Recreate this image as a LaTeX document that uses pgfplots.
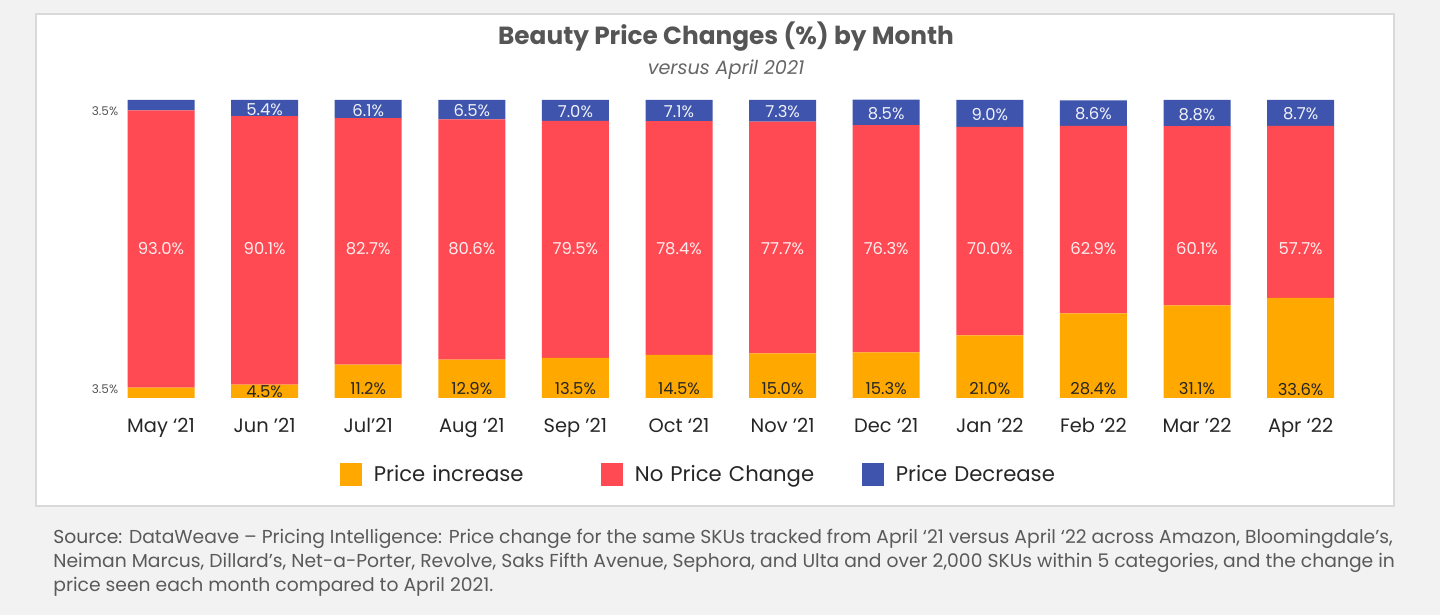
\documentclass[border=0pt]{standalone}
\usepackage{fontspec}
\setmainfont{Poppins}
\usepackage{pgfplots}
\pgfplotsset{compat=1.18}
\definecolor{bg}{HTML}{F2F2F2}
\definecolor{frame}{HTML}{D9D9D9}
\definecolor{incr}{HTML}{FFA900}
\definecolor{same}{HTML}{FF4A53}
\definecolor{decr}{HTML}{3F55AD}
\definecolor{ink}{HTML}{262626}
\definecolor{titlec}{HTML}{555555}
\definecolor{subc}{HTML}{666666}
\definecolor{srcc}{HTML}{5A5A5A}

\begin{document}
\begin{tikzpicture}
% background and panel (1px = 0.5pt)
\fill[bg] (0,0) rectangle (720pt,307.5pt);
\useasboundingbox (0,0) rectangle (720pt,307.5pt);
\filldraw[fill=white, draw=frame, line width=1.2pt] (18pt,54.5pt) rectangle (697pt,300.5pt);

\node[font=\fontsize{12.4}{14}\selectfont\bfseries, text=titlec] at (363pt,289pt) {Beauty Price Changes (\%) by Month};
\node[font=\fontsize{9.6}{11}\selectfont\itshape, text=subc] at (363pt,272.5pt) {versus April 2021};

\begin{axis}[
  at={(54.6pt,108.5pt)}, anchor=south west,
  scale only axis, width=621.6pt, height=149pt,
  xmin=-0.5, xmax=11.5, ymin=0, ymax=100,
  ybar stacked, bar width=33.5pt,
  axis line style={draw=none},
  ytick=\empty,
  xtick={0,...,11},
  xticklabels={May ‘21,Jun ’21,Jul’21,Aug ‘21,Sep ’21,Oct ‘21,Nov ’21,Dec ‘21,Jan ’22,Feb ‘22,Mar ’22,Apr ‘22},
  xtick style={draw=none},
  major tick length=0pt,
  xticklabel style={font=\fontsize{9.7}{11}\selectfont, text=ink, anchor=base, yshift=-17.5pt},
  legend columns=3,
  legend cell align=left,
  legend style={draw=none, fill=none, at={(0.1804,-0.258)}, anchor=west,
    font=\fontsize{10.6}{12}\selectfont, text=ink,
    /tikz/every even column/.append style={column sep=0pt, text width=111.5pt}},
  legend image code/.code={\fill[#1] (0pt,-5.75pt) rectangle (11pt,5.75pt); \path (15pt,0pt);},
]
\addplot[fill=incr, draw=none] coordinates {
  (0,3.5) (1,4.5) (2,11.2) (3,12.9) (4,13.5) (5,14.5)
  (6,15.0) (7,15.3) (8,21.0) (9,28.4) (10,31.1) (11,33.6)};
\addplot[fill=same, draw=none] coordinates {
  (0,93.0) (1,90.1) (2,82.7) (3,80.6) (4,79.5) (5,78.4)
  (6,77.7) (7,76.3) (8,70.0) (9,62.9) (10,60.1) (11,57.7)};
\addplot[fill=decr, draw=none] coordinates {
  (0,3.5) (1,5.4) (2,6.1) (3,6.5) (4,7.0) (5,7.1)
  (6,7.3) (7,8.5) (8,9.0) (9,8.6) (10,8.8) (11,8.7)};
\legend{Price increase, No Price Change, Price Decrease}
\end{axis}

% value labels
\begin{axis}[
  at={(54.6pt,108.5pt)}, anchor=south west,
  scale only axis, width=621.6pt, height=149pt,
  xmin=-0.5, xmax=11.5, ymin=0, ymax=100,
  hide axis, clip=false,
  nodes near coords, point meta=explicit symbolic,
  every node near coord/.style={anchor=center, inner sep=0pt, font=\fontsize{8.2}{10}\selectfont},
]
% price decrease
\addplot[only marks, mark=none, every node near coord/.append style={text=white!92!decr}] coordinates {
  (1,96.9) [5.4\%] (2,96.6) [6.1\%] (3,96.4) [6.5\%] (4,96.1) [7.0\%]
  (5,96.1) [7.1\%] (6,96.0) [7.3\%] (7,95.4) [8.5\%] (8,95.1) [9.0\%]
  (9,95.3) [8.6\%] (10,95.2) [8.8\%] (11,95.3) [8.7\%]};
% no change
\addplot[only marks, mark=none, every node near coord/.append style={text=white!90!same}] coordinates {
  (0,50) [93.0\%] (1,50) [90.1\%] (2,50) [82.7\%] (3,50) [80.6\%]
  (4,50) [79.5\%] (5,50) [78.4\%] (6,50) [77.7\%] (7,50) [76.3\%]
  (8,50) [70.0\%] (9,50) [62.9\%] (10,50) [60.1\%] (11,50) [57.7\%]};
% price increase
\addplot[only marks, mark=none, every node near coord/.append style={text=ink}] coordinates {
  (1,2) [4.5\%] (2,3) [11.2\%] (3,3) [12.9\%] (4,3) [13.5\%]
  (5,3) [14.5\%] (6,3) [15.0\%] (7,3) [15.3\%] (8,3) [21.0\%]
  (9,3) [28.4\%] (10,3) [31.1\%] (11,3) [33.6\%]};
% May values beside the bar
\addplot[only marks, mark=none, every node near coord/.append style={anchor=east, text=titlec, font=\fontsize{6}{7}\selectfont}] coordinates {
  (-0.41,96.3) [3.5\%] (-0.41,3) [3.5\%]};
\end{axis}

\node[anchor=north west, inner sep=0pt, align=left, text=srcc,
  font=\fontsize{9.37}{12}\selectfont] at (26.5pt,43.3pt)
  {\textcolor{titlec}{Source:} DataWeave – Pricing Intelligence: Price change for the same SKUs tracked from April ‘21 versus April ‘22 across Amazon, Bloomingdale's,\\
  Neiman Marcus, Dillard's, Net-a-Porter, Revolve, Saks Fifth Avenue, Sephora, and Ulta and over 2,000 SKUs within 5 categories, and the change in\\
  price seen each month compared to April 2021.};
\end{tikzpicture}
\end{document}
